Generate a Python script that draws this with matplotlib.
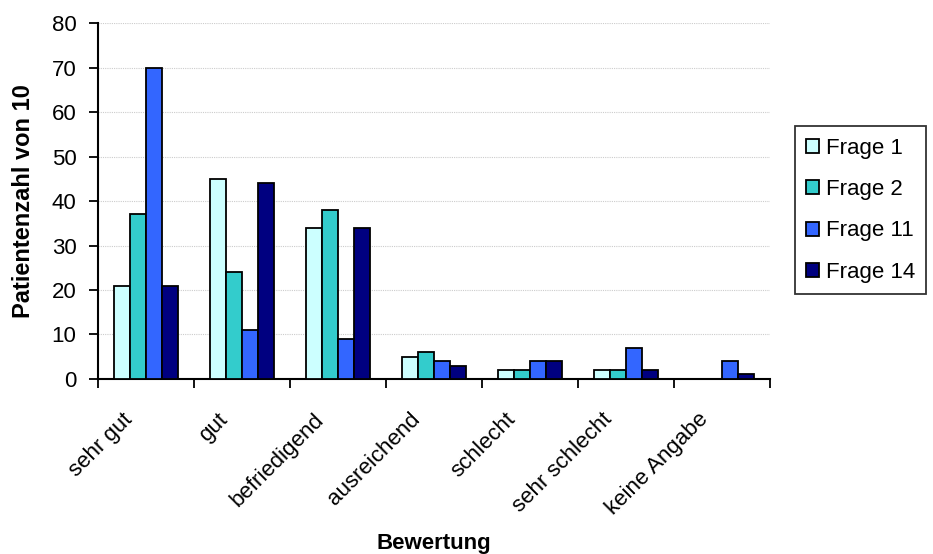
import matplotlib
matplotlib.use("Agg")
import matplotlib.pyplot as plt
import matplotlib.transforms as mtransforms
import numpy as np

plt.rcParams['font.family'] = ['Liberation Sans', 'DejaVu Sans']

categories = ["sehr gut", "gut", "befriedigend", "ausreichend",
              "schlecht", "sehr schlecht", "keine Angabe"]
series_names = ["Frage 1", "Frage 2", "Frage 11", "Frage 14"]
frage1 = [21, 45, 34, 5, 2, 2, 0]
frage2 = [37, 24, 38, 6, 2, 2, 0]
frage11 = [70, 11, 9, 4, 4, 7, 4]
frage14 = [21, 44, 34, 3, 4, 2, 1]
colors = ["#CCFFFF", "#33CCCC", "#3366FF", "#000080"]

fig = plt.figure(figsize=(9.33, 5.54), dpi=100)
ax = fig.add_axes([0.105, 0.316, 0.72, 0.642])

x = np.arange(len(categories))
w = 1 / 6
for i, (vals, name, c) in enumerate(zip([frage1, frage2, frage11, frage14],
                                        series_names, colors)):
    ax.bar(x + (i - 1.5) * w, vals, width=w, color=c, edgecolor="black",
           linewidth=1.3, label=name, zorder=3)

ax.set_xlim(-0.5, len(categories) - 0.5)
ax.set_ylim(0, 80)
ax.set_yticks(range(0, 81, 10))
ax.yaxis.grid(True, linestyle=(0, (1, 1)), color="#cccccc", linewidth=0.8, zorder=0)

# category ticks between groups, labels at centers
ax.set_xticks(np.arange(-0.5, len(categories) + 0.5, 1))
ax.set_xticklabels([])
ax.set_xticks(x, minor=True)
ax.set_xticklabels(categories, minor=True, rotation=45, ha="right", va="center",
                   rotation_mode="anchor", fontsize=16)
ax.tick_params(axis="x", which="minor", length=0, pad=27)
ax.tick_params(axis="x", which="major", length=6.5, width=1.3, direction="out")
ax.tick_params(axis="y", length=6.5, width=1.3, direction="out", labelsize=16, pad=9)
shift = mtransforms.ScaledTranslation(-0.17, 0, fig.dpi_scale_trans)
for lab in ax.get_xticklabels(minor=True):
    lab.set_transform(lab.get_transform() + shift)

for s in ["top", "right"]:
    ax.spines[s].set_visible(False)
for s in ["left", "bottom"]:
    ax.spines[s].set_linewidth(1.5)

ax.set_xlabel("Bewertung", fontsize=16, fontweight="bold", labelpad=10)
ax.set_ylabel("Patientenzahl von 10", fontsize=17, fontweight="bold", labelpad=12)

leg = ax.legend(loc="upper left", bbox_to_anchor=(1.037, 0.71), frameon=True,
                fancybox=False, edgecolor="black", fontsize=16,
                handlelength=0.6, handleheight=0.6, handletextpad=0.3,
                borderpad=0.5, labelspacing=0.92, borderaxespad=0)
leg.get_frame().set_linewidth(1.3)

fig.savefig("out.png", dpi=100)
